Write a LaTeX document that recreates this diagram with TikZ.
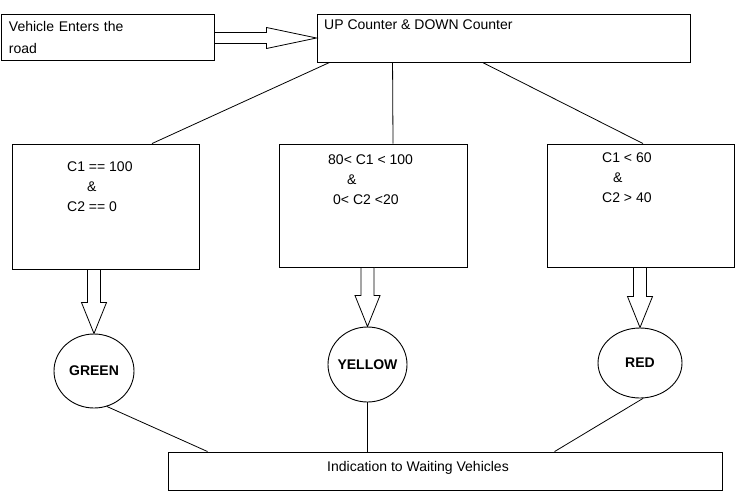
\documentclass[tikz,border=0pt]{standalone}
\usepackage{fontspec}
\setmainfont{Liberation Sans}
\usetikzlibrary{positioning,calc,shapes.geometric}

% hollow arrow pointing down from box #1 to lamp #2
\newcommand{\fatdown}[2]{%
  \draw[fat] (#2) -- ++(-12.5,-31) -- ++(6,0) -- ($(#1 -| #2)+(-6.5,0)$) -- ++(13,0)
    -- ($(#2)+(6.5,-31)$) -- ++(6,0) -- cycle;}

\begin{document}
\begin{tikzpicture}[
  x=1pt, y=-1pt,
  box/.style={rectangle, draw, line width=0.9pt, inner sep=0pt},
  cond/.style={font=\fontsize{14}{20}\selectfont, align=left, inner sep=0pt, anchor=west},
  lamp/.style={ellipse, draw, line width=0.9pt, inner sep=0pt},
  lamptxt/.style={inner sep=0pt, font=\fontsize{14}{16}\selectfont\bfseries},
  link/.style={line width=0.8pt},
  fat/.style={draw, line width=0.8pt, fill=white},
  font=\fontsize{14}{22}\selectfont
]
\useasboundingbox (0,0) rectangle (736,498);

% Input and counters
\node[box, minimum width=213pt, minimum height=46pt, text width=197pt, inner xsep=8pt, align=left] (veh) at (107.5,37) {Vehicle Enters the\\road};
\node[box, minimum width=373pt, minimum height=48pt] (up) at (503.5,38) {};
\node[anchor=base west, inner sep=0pt] (uptxt) at (324,29) {UP Counter \& DOWN Counter};
\draw[fat] (up.west) -- ++(-50,-10.5) -- ++(0,5) -- ($(veh.east |- up.west)+(0,-5.5)$) -- ++(0,11)
  -- ($(up.west)+(-50,5.5)$) -- ++(0,5) -- cycle;

% Conditions
\node[box, minimum width=187pt, minimum height=125pt] (c1) at (105.5,206.5) {};
\node[box, minimum width=188pt, minimum height=123pt] (c2) at (373,205.5) {};
\node[box, minimum width=187pt, minimum height=123pt] (c3) at (640.5,205.5) {};
\node[cond] (t1) at (67,187) {C1 == 100\\\hspace*{20pt}\&\\C2 == 0};
\node[cond] (t2) at (328,180) {80< C1 < 100\\\hspace*{19pt}\&\\\hspace*{5pt}0< C2 <20};
\node[cond] (t3) at (602,178) {C1 < 60\\\hspace*{11pt}\&\\C2 > 40};

\draw[link] ($(up.south west)+(13,0)$) -- ($(c1.north)+(46.5,0)$);
\draw[link] ($(up.south west)+(76,0)$) -- ($(c2.north)+(20,0)$);
\draw[link] ($(up.south west)+(166,0)$) -- ($(c3.north)+(2.5,0)$);

% Signal lamps
\node[lamp, minimum width=80pt, minimum height=74pt] (green) at (94,371) {};
\node[lamp, minimum width=79pt, minimum height=75pt] (yellow) at (367.5,364.5) {};
\node[lamp, minimum width=84pt, minimum height=70pt] (red) at (640,363) {};
\node[lamptxt] (gtxt) at (green) {GREEN};
\node[lamptxt] (ytxt) at (yellow) {YELLOW};
\node[lamptxt] (rtxt) at (red) {RED};

\fatdown{c1.south}{green.north}
\fatdown{c2.south}{yellow.north}
\fatdown{c3.south}{red.north}

% Output
\node[box, minimum width=554pt, minimum height=38pt] (ind) at (445,471) {};
\node (indtxt) at (418,468) {Indication to Waiting Vehicles};

\draw[link] (green.-70) -- ($(ind.north west)+(40,0)$);
\draw[link] (yellow.south) -- (yellow.south |- ind.north);
\draw[link] (red.-85) -- ($(ind.north west)+(387,0)$);
\end{tikzpicture}
\end{document}
